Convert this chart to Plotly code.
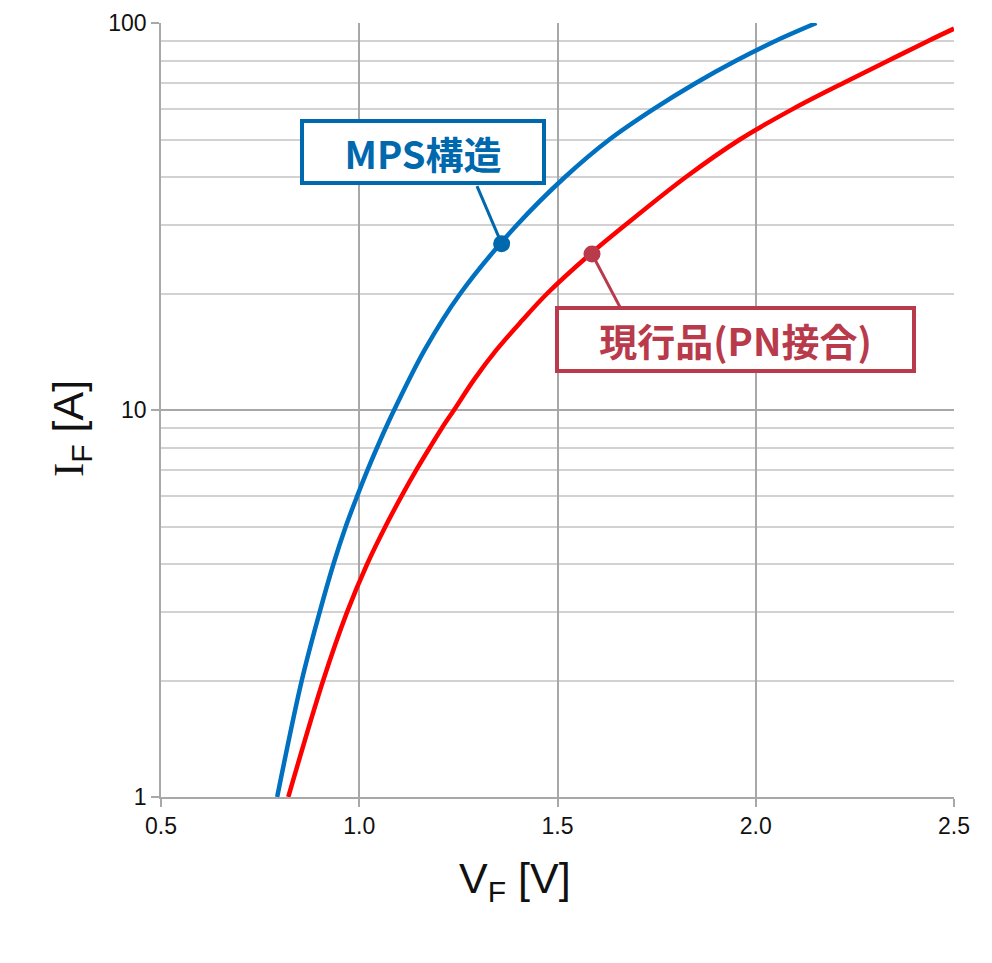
import numpy as np
import plotly.graph_objects as go

# forward characteristics (IF in A, VF in V)
mps_if = [1, 2, 3, 4, 5, 6, 7, 8, 9, 10, 14.3, 20, 30,
          40, 50, 60, 70, 80, 90, 100]
mps_vf = [0.793, 0.855, 0.900, 0.935, 0.966, 0.995, 1.021, 1.045, 1.067, 1.088,
          1.165, 1.255, 1.397,
          1.519, 1.631, 1.743, 1.849, 1.951, 2.051, 2.153]

pn_if = [1, 2, 3, 4, 5, 6, 7, 8, 9, 10, 12, 14.3, 17, 20, 25, 30,
         40, 50, 60, 70, 80, 90, 96.7]
pn_vf = [0.821, 0.909, 0.969, 1.020, 1.066, 1.107, 1.144, 1.178, 1.209, 1.239,
         1.290, 1.346, 1.410, 1.474, 1.577, 1.670,
         1.824, 1.960, 2.094, 2.221, 2.335, 2.436, 2.500]

# callout points on each curve and the box label positions
mps_label = "MPS構造"
pn_label = "現行品(PN接合)"
mps_dot = (1.359, 26.9)
pn_dot = (1.587, 25.3)
mps_box = (1.162, 46.4)
pn_box = (1.949, 15.2)
mps_leader_end = (1.297, 37.9)
pn_leader_end = (1.657, 18.5)

x_ticks = [0.5, 1.0, 1.5, 2.0, 2.5]
y_ticks = [1, 10, 100]

BLUE_LINE = "#0070C0"
BLUE_DARK = "#0068AD"
RED_LINE = "#FF0000"
RED_DARK = "#B83A4B"
FONT = "Liberation Sans, Arial, sans-serif"
JP_FONT = "Noto Sans CJK JP"

fig = go.Figure()

fig.add_trace(go.Scatter(x=mps_vf, y=mps_if, mode="lines",
                         line=dict(color=BLUE_LINE, width=4.5, shape="spline", smoothing=1.0),
                         hoverinfo="skip"))
fig.add_trace(go.Scatter(x=pn_vf, y=pn_if, mode="lines",
                         line=dict(color=RED_LINE, width=4.5, shape="spline", smoothing=1.0),
                         hoverinfo="skip"))

# leader lines + dots
for dot, end, col in [(mps_dot, mps_leader_end, BLUE_DARK), (pn_dot, pn_leader_end, RED_DARK)]:
    fig.add_trace(go.Scatter(x=[end[0], dot[0]], y=[end[1], dot[1]], mode="lines",
                             line=dict(color=col, width=3), hoverinfo="skip"))
    fig.add_trace(go.Scatter(x=[dot[0]], y=[dot[1]], mode="markers",
                             marker=dict(color=col, size=17), hoverinfo="skip"))

fig.add_annotation(x=mps_box[0], y=np.log10(mps_box[1]), xref="x", yref="y",
                   text="<b>" + mps_label + "</b>", showarrow=False,
                   font=dict(family=JP_FONT, size=38, color=BLUE_DARK),
                   bgcolor="white", bordercolor=BLUE_DARK, borderwidth=4, borderpad=0,
                   width=238, height=58)
fig.add_annotation(x=pn_box[0], y=np.log10(pn_box[1]), xref="x", yref="y",
                   text="<b>" + pn_label + "</b>", showarrow=False,
                   font=dict(family=JP_FONT, size=38, color=RED_DARK),
                   bgcolor="white", bordercolor=RED_DARK, borderwidth=4, borderpad=0,
                   width=353, height=59)

# axis titles
fig.add_annotation(x=0.446, y=-0.1465, xref="paper", yref="paper",
                   text="V<sub>F</sub> [V]", showarrow=False,
                   font=dict(family=FONT, size=43, color="#111111"))
fig.add_annotation(x=-0.150, y=0.4754, xref="paper", yref="paper", textangle=-90,
                   text="<span style=\"font-family:'Liberation Serif'\">I</span><sub>F</sub> [A]",
                   showarrow=False,
                   font=dict(family=FONT, size=43, color="#111111"))

fig.update_xaxes(range=[0.5, 2.5], tickvals=x_ticks, ticktext=[f"{v:.1f}" for v in x_ticks],
                 showgrid=True, gridcolor="#A8A8A8", gridwidth=1.6,
                 showline=True, linecolor="#A8A8A8", linewidth=1.6,
                 ticks="outside", ticklen=8, tickcolor="#A8A8A8", tickwidth=1.6,
                 tickfont=dict(family=FONT, size=23, color="#111111"),
                 zeroline=False, automargin=False)
fig.update_yaxes(type="log", range=[0, 2], tickvals=y_ticks, ticktext=[str(v) for v in y_ticks],
                 showgrid=True, gridcolor="#A8A8A8", gridwidth=1.6,
                 minor=dict(showgrid=True, gridcolor="#D2D2D2", gridwidth=2,
                            tickvals=[m * d for d in [1, 10] for m in range(2, 10)]),
                 showline=True, linecolor="#A8A8A8", linewidth=1.6,
                 ticks="outside", ticklen=8, tickcolor="#A8A8A8", tickwidth=1.6,
                 tickfont=dict(family=FONT, size=23, color="#111111"),
                 zeroline=False, automargin=False)

fig.update_layout(width=992, height=963, showlegend=False,
                  plot_bgcolor="white", paper_bgcolor="white",
                  margin=dict(l=153, r=46, t=15, b=174))

fig.write_html("out.html")
